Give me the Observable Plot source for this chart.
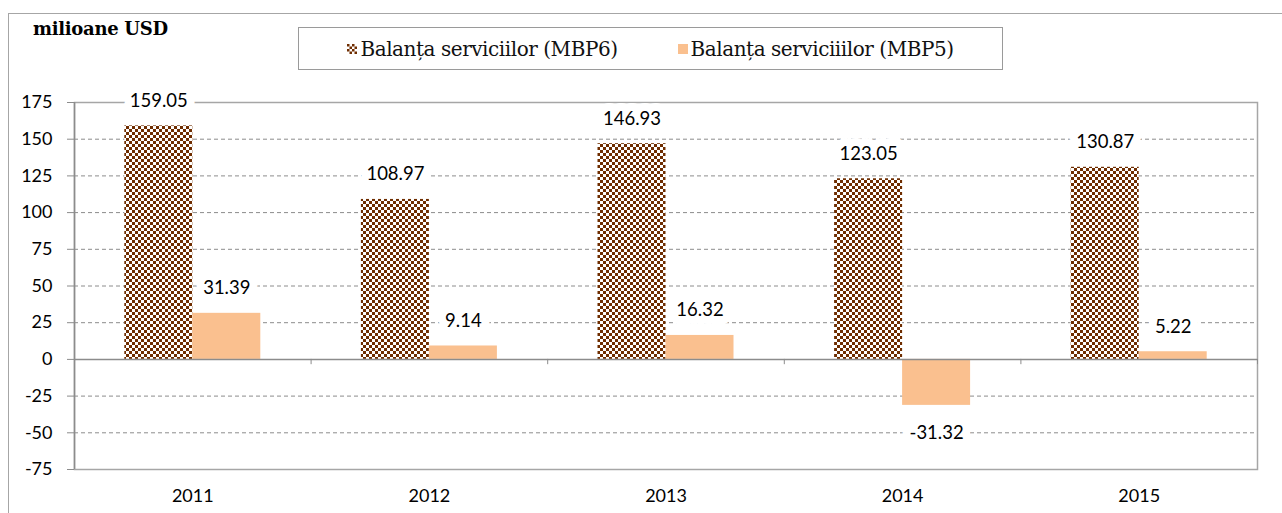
<!DOCTYPE html>
<html>
<head>
<meta charset="utf-8">
<script src="https://cdn.jsdelivr.net/npm/d3@7"></script>
<script src="https://cdn.jsdelivr.net/npm/@observablehq/plot@0.6"></script>
<style>
  html, body { margin: 0; padding: 0; background: #fff; }
  #wrap { position: relative; width: 1282px; height: 513px; overflow: hidden; background: #fff; }
  #outer { position: absolute; left: 8px; top: 13px; width: 1400px; height: 600px;
           border-left: 1.5px solid #a6a6a6; border-top: 1.5px solid #a6a6a6; }
  #unit { position: absolute; left: 33px; top: 18px; font-family: "DejaVu Serif", serif;
          font-weight: bold; font-size: 18px; color: #000; letter-spacing: -0.3px; }
  #legend { position: absolute; left: 298px; top: 27px; width: 703px; height: 41px;
            border: 1.5px solid #9a9a9a; background: #fff; display: flex; align-items: center;
            justify-content: center; gap: 60px; font-family: "DejaVu Serif", serif;
            font-size: 20px; letter-spacing: -0.45px; color: #111; z-index: 2; }
  .item { display: flex; align-items: center; gap: 3px; }
  .sw { width: 10px; height: 10px; display: inline-block; }
  #chart { position: absolute; left: 0; top: 0; }
</style>
</head>
<body>
<div id="wrap">
  <div id="outer"></div>
  <div id="chart"></div>
  <div id="unit">milioane USD</div>
  <div id="legend"></div>
</div>
<script>
// ---- data ----
const years = [2011, 2012, 2013, 2014, 2015];
const seriesNames = ["Balanța serviciilor (MBP6)", "Balanța serviciiilor (MBP5)"];
const mbp6 = [159.05, 108.97, 146.93, 123.05, 130.87];
const mbp5 = [31.39, 9.14, 16.32, -31.32, 5.22];
const yTicks = [-75, -50, -25, 0, 25, 50, 75, 100, 125, 150, 175];

// ---- styling constants ----
const brown = "#6f2d00";
const orange = "#fac08f";
const barW = 0.2874; // bar width in category units

const rows = [];
years.forEach((yr, i) => {
  rows.push({year: yr, series: seriesNames[0], value: mbp6[i], x1: yr - barW, x2: yr});
  rows.push({year: yr, series: seriesNames[1], value: mbp5[i], x1: yr, x2: yr + barW});
});
rows.forEach(d => d.xm = (d.x1 + d.x2) / 2);
const boundaries = years.map(y => y + 0.5);
const xDomain = [years[0] - 0.5, years[years.length - 1] + 0.5];

const fmt = v => v.toFixed(2);

const chart = Plot.plot({
  width: 1282,
  height: 513,
  marginLeft: 74,
  marginRight: 25,
  marginTop: 102,
  marginBottom: 44,
  x: {domain: xDomain, label: null},
  y: {domain: [yTicks[0], yTicks[yTicks.length - 1]], label: null},
  style: {fontFamily: "Lato, 'Open Sans', sans-serif", fontSize: "18px", color: "#000", background: "transparent"},
  marks: [
    Plot.ruleY(yTicks.filter(d => d !== 0 && d !== yTicks[0] && d !== yTicks[yTicks.length - 1]),
      {stroke: "#8c8c8c", strokeDasharray: "4,3", strokeWidth: 1}),
    Plot.rectY(rows.filter(d => d.series === seriesNames[0]),
      {x1: "x1", x2: "x2", y1: 0, y2: "value", fill: "url(#checker)"}),
    Plot.rectY(rows.filter(d => d.series === seriesNames[1]),
      {x1: "x1", x2: "x2", y1: 0, y2: "value", fill: orange}),
    Plot.frame({stroke: "#a6a6a6", strokeWidth: 1.5}),
    Plot.ruleX([xDomain[0]], {stroke: "#8c8c8c", strokeWidth: 1.5}),
    Plot.ruleY([0], {stroke: "#8c8c8c", strokeWidth: 1.5}),
    Plot.ruleX(boundaries, {y1: 0, y2: -3.6, stroke: "#8c8c8c", strokeWidth: 1}),
    Plot.axisY({ticks: yTicks, tickFormat: d => String(d), tickSize: 7, tickPadding: 15, stroke: "#8c8c8c", fill: "#000"}),
    Plot.axisX({ticks: years, tickFormat: d => String(d), tickSize: 0, tickPadding: 20, fill: "#000"}),
    Plot.text(rows.filter(d => d.value >= 0),
      {x: "xm", y: "value", text: d => fmt(d.value), dy: -25, fill: "#000",
       stroke: "white", strokeWidth: 16, strokeLinejoin: "round"}),
    Plot.text(rows.filter(d => d.value < 0),
      {x: "xm", y: "value", text: d => fmt(d.value), dy: 28, fill: "#000",
       stroke: "white", strokeWidth: 16, strokeLinejoin: "round"})
  ]
});

// font sizes forced on the rendered text
d3.select(chart).selectAll("g").attr("font-size", null);
d3.select(chart).selectAll("text")
  .attr("font-size", null)
  .style("font-family", "Lato, 'Open Sans', sans-serif")
  .style("font-size", "18px");
d3.select(chart).selectAll('g[aria-label="text"] text').style("font-size", "18.5px");

// checkerboard pattern definition
const ns = "http://www.w3.org/2000/svg";
const defs = document.createElementNS(ns, "defs");
defs.innerHTML = `<pattern id="checker" width="6" height="6" patternUnits="userSpaceOnUse">
  <rect width="6" height="6" fill="#fff"/>
  <rect width="3" height="3" fill="${brown}"/>
  <rect x="3" y="3" width="3" height="3" fill="${brown}"/>
</pattern>`;
chart.insertBefore(defs, chart.firstChild);
document.getElementById("chart").appendChild(chart);

// legend
const legend = document.getElementById("legend");
const swChecker = `<svg class="sw" viewBox="0 0 10 10" width="10" height="10">
  <rect width="10" height="10" fill="#fff"/>
  ${[0,1,2,3].map(r => [0,1,2,3].filter(c => (r + c) % 2 === 0).map(c =>
    `<rect x="${c*2.5}" y="${r*2.5}" width="2.5" height="2.5" fill="${brown}"/>`).join("")).join("")}
</svg>`;
const swOrange = `<span class="sw" style="background:${orange}"></span>`;
legend.innerHTML = `<span class="item">${swChecker}<span>${seriesNames[0]}</span></span>
  <span class="item">${swOrange}<span>${seriesNames[1]}</span></span>`;
</script>
</body>
</html>
